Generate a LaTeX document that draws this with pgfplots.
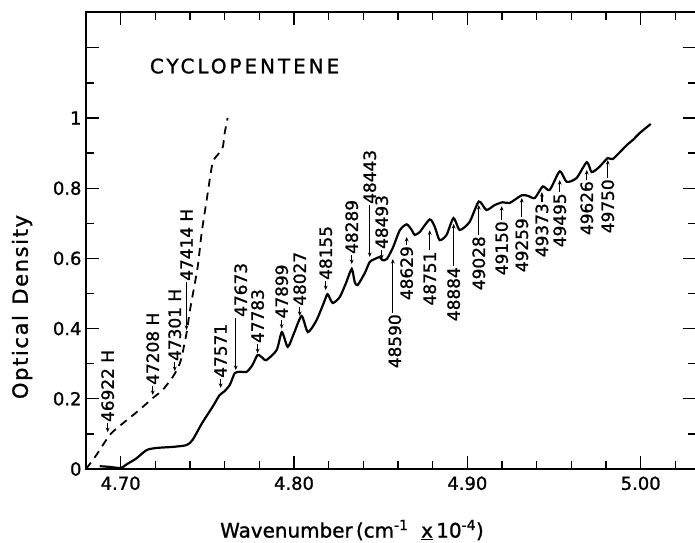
\documentclass[border=0pt]{standalone}
\usepackage{fontspec}
\setmainfont{DejaVu Sans}[FakeBold=1.2]
\usepackage{pgfplots}
\pgfplotsset{compat=1.18}
\usetikzlibrary{arrows.meta}

\tikzset{
  arr/.style={line width=1.2bp, -{Stealth[length=4.5bp,width=3.8bp]}},
  ann/.style={rotate=90, inner sep=1bp, font=\fontsize{17}{17}\selectfont}
}
% label above the curve, arrow pointing down to tip
\newcommand{\dn}[5]{%
  \draw[arr] ([yshift=#3bp]axis cs:#1,#2) -- (axis cs:#1,#2);
  \node[ann,anchor=west] at ([xshift=#4bp,yshift=#3bp]axis cs:#1,#2) {#5};}
% label below the curve, arrow pointing up to tip
\newcommand{\up}[5]{%
  \draw[arr] ([yshift=-#3bp]axis cs:#1,#2) -- (axis cs:#1,#2);
  \node[ann,anchor=east] at ([xshift=#4bp,yshift=-#3bp]axis cs:#1,#2) {#5};}

\pgfplotstableread{
x y
4.6800 0.000
4.6860 0.040
4.6937 0.097
4.7000 0.125
4.7100 0.165
4.7185 0.202
4.7242 0.225
4.7300 0.262
4.7330 0.288
4.7350 0.315
4.7380 0.387
4.7400 0.453
4.7444 0.575
4.7467 0.672
4.7496 0.766
4.7530 0.872
4.7560 0.895
4.7589 0.917
4.7600 0.957
4.7617 1.000
}\dashdata

\pgfplotstableread{
x y
4.6879 0.008
4.6937 0.006
4.7000 0.003
4.7040 0.015
4.7090 0.030
4.7150 0.054
4.7208 0.060
4.7300 0.063
4.7380 0.068
4.7415 0.083
4.7470 0.131
4.7530 0.177
4.7570 0.210
4.7600 0.222
4.7630 0.240
4.7658 0.273
4.7687 0.277
4.7727 0.277
4.7760 0.296
4.7790 0.325
4.7820 0.316
4.7840 0.310
4.7900 0.339
4.7930 0.390
4.7964 0.348
4.8000 0.387
4.8044 0.436
4.8080 0.390
4.8130 0.424
4.8177 0.480
4.8194 0.498
4.8223 0.473
4.8264 0.490
4.8300 0.530
4.8333 0.570
4.8350 0.533
4.8367 0.524
4.8408 0.558
4.8437 0.590
4.8465 0.598
4.8494 0.604
4.8510 0.595
4.8535 0.598
4.8570 0.630
4.8610 0.680
4.8650 0.697
4.8680 0.680
4.8696 0.667
4.8725 0.675
4.8783 0.711
4.8812 0.690
4.8840 0.652
4.8880 0.667
4.8920 0.715
4.8956 0.681
4.9013 0.704
4.9066 0.762
4.9110 0.738
4.9158 0.752
4.9204 0.760
4.9244 0.758
4.9314 0.780
4.9350 0.778
4.9389 0.772
4.9435 0.805
4.9475 0.795
4.9533 0.848
4.9573 0.818
4.9630 0.829
4.9689 0.874
4.9717 0.846
4.9760 0.860
4.9810 0.886
4.9839 0.883
4.9920 0.923
4.9954 0.937
4.9994 0.957
5.0058 0.983
}\soliddata

\begin{document}
\begin{tikzpicture}
\path[use as bounding box] (-86bp,-74bp) rectangle (609bp,469bp);
\begin{axis}[
  at={(0,0)}, anchor=south west,
  scale only axis, width=610bp, height=457bp,
  xmin=4.68, xmax=5.0319, ymin=0, ymax=1.302,
  clip=false,
  axis line style={line width=1.6bp},
  xtick={4.70,4.80,4.90,5.00},
  xticklabels={4.70,4.80,4.90,5.00},
  minor xtick={4.72,4.74,4.76,4.78,4.82,4.84,4.86,4.88,4.92,4.94,4.96,4.98,5.02},
  ytick={0,0.2,0.4,0.6,0.8,1.0,1.2},
  yticklabels={0,0.2,0.4,0.6,0.8,1,{}},
  minor ytick={0.1,0.3,0.5,0.7,0.9,1.1},
  tick align=inside,
  major tick length=13bp, minor tick length=8bp,
  every tick/.style={line width=1.3bp, black},
  ticklabel style={font=\fontsize{18}{18}\selectfont},
  xticklabel style={yshift=-4bp},
  yticklabel style={xshift=-1bp},
]
\addplot[black, line width=2.2bp, smooth, tension=0.4] table {\soliddata};
\addplot[black, line width=1.8bp, dash pattern=on 8bp off 6bp, smooth, tension=0.4] table {\dashdata};

\node[font=\fontsize{20}{20}\selectfont\addfontfeatures{LetterSpace=15}] at (axis cs:4.7715,1.148) {CYCLOPENTENE};

\dn{4.6925}{0.105}{9}{0}{46922 H}
\dn{4.7185}{0.211}{9}{0}{47208 H}
\dn{4.7312}{0.279}{9}{0}{47301 H}
\dn{4.7380}{0.396}{48}{0}{47414 H}
\dn{4.7577}{0.231}{9}{0}{47571}
\dn{4.7664}{0.282}{52}{5}{47673}
\dn{4.7790}{0.330}{9}{0}{47783}
\dn{4.7929}{0.400}{9}{0}{47899}
\dn{4.8033}{0.436}{9}{0}{48027}
\dn{4.8183}{0.510}{9}{0}{48155}
\dn{4.8333}{0.584}{9}{0}{48289}
\dn{4.8437}{0.604}{52}{0}{48443}
\dn{4.8506}{0.598}{9}{0}{48493}
\up{4.8570}{0.598}{54}{2}{48590}
\up{4.8650}{0.661}{8}{0}{48629}
\up{4.8783}{0.680}{20}{0}{48751}
\up{4.8921}{0.698}{42}{0}{48884}
\up{4.9066}{0.752}{30}{0}{49028}
\up{4.9198}{0.749}{14}{0}{49150}
\up{4.9314}{0.772}{19}{0}{49259}
\up{4.9430}{0.789}{10}{0}{49373}
\up{4.9533}{0.823}{12}{0}{49495}
\up{4.9689}{0.852}{10}{0}{49626}
\up{4.9810}{0.880}{18}{0}{49750}
\end{axis}
\node[rotate=90, font=\fontsize{21}{21}\selectfont\addfontfeatures{LetterSpace=8}] at (-64bp,162bp) {Optical\hspace{0.5em}Density};
\node[font=\fontsize{20}{20}\selectfont] at (266bp,-61bp) {Wavenumber\,(cm\textsuperscript{-1}\ \ \underline{x}\,10\textsuperscript{-4})};
\end{tikzpicture}
\end{document}
